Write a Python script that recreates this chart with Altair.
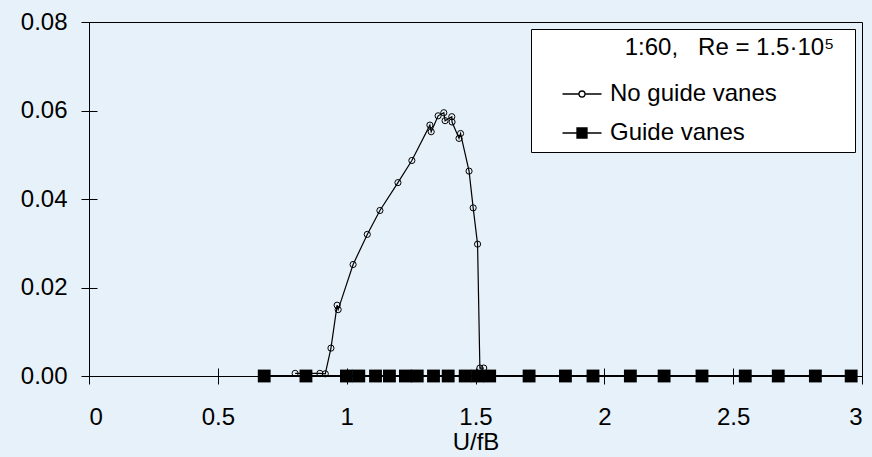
import altair as alt
import pandas as pd

# ---- data ----
no_vanes_x = [0.80, 0.896, 0.917, 0.939, 0.963, 0.967, 1.025, 1.080, 1.129, 1.199,
              1.253, 1.323, 1.328, 1.355, 1.377, 1.382, 1.408, 1.409, 1.436, 1.442,
              1.475, 1.491, 1.508, 1.517, 1.532]
no_vanes_y = [0.0006, 0.0006, 0.0005, 0.0063, 0.0160, 0.0150, 0.0252, 0.0320, 0.0374, 0.0437,
              0.0487, 0.0567, 0.0552, 0.0588, 0.0595, 0.0577, 0.0586, 0.0574, 0.0537, 0.0548,
              0.0463, 0.0380, 0.0298, 0.0018, 0.0018]

vanes_x = [0.680, 0.842, 0.999, 1.047, 1.112, 1.166, 1.228, 1.274, 1.337, 1.394,
           1.460, 1.508, 1.555, 1.708, 1.849, 1.956, 2.101, 2.232, 2.379, 2.547,
           2.675, 2.819, 2.958]
vanes_y = [0.0, 0.0, 0.0, 0.0, 0.0, 0.0, 0.0, 0.0, 0.0, 0.0,
           0.0, 0.0, 0.0, 0.0, 0.0, 0.0, 0.0, 0.0, 0.0, 0.0,
           0.0, 0.0, 0.0]

series_names = ["No guide vanes", "Guide vanes"]
x_ticks = [0, 0.5, 1, 1.5, 2, 2.5, 3]
y_ticks = [0.0, 0.02, 0.04, 0.06, 0.08]
x_title = "U/fB"
legend_title = ("\u200b" + "\u00a0" * 13 + "1:60,\u00a0\u00a0\u00a0Re\u00a0=\u00a01.5\u00b710\u2075"
                + "\u00a0\u00a0\u200b")

# ---- styling ----
BG = "#E7F1F9"
FONT = "Liberation Sans"
FS = 24

df_nv = pd.DataFrame({"x": no_vanes_x, "y": no_vanes_y,
                      "idx": list(range(len(no_vanes_x))), "series": series_names[0]})
df_v = pd.DataFrame({"x": vanes_x, "y": vanes_y,
                     "idx": list(range(len(vanes_x))), "series": series_names[1]})
df_leg = pd.DataFrame({"series": series_names,
                       "x": [no_vanes_x[0], vanes_x[0]],
                       "y": [no_vanes_y[0], vanes_y[0]]})

xscale = alt.Scale(domain=[0, 3], nice=False, zero=False)
yscale = alt.Scale(domain=[0, 0.08], nice=False)

x_axis = alt.Axis(values=x_ticks, format="~g", domain=False, grid=False,
                  offset=-8, tickSize=16, tickColor="black", tickWidth=1,
                  labelFont=FONT, labelFontSize=FS, labelColor="black", labelPadding=21,
                  title=x_title, titleFont=FONT, titleFontSize=24, titleFontWeight="normal",
                  titleColor="black", titlePadding=1)
y_axis = alt.Axis(values=y_ticks, format=".2f", domain=False, grid=False,
                  offset=-8, tickSize=16, tickColor="black", tickWidth=1,
                  labelFont=FONT, labelFontSize=FS, labelColor="black", labelPadding=14,
                  title=None)

X = alt.X("x:Q", scale=xscale, axis=x_axis)
Y = alt.Y("y:Q", scale=yscale, axis=y_axis)

line_v = alt.Chart(df_v).mark_line(color="black", strokeWidth=2).encode(
    x=X, y=Y, order="idx:Q")
line_nv = alt.Chart(df_nv).mark_line(color="black", strokeWidth=1.2).encode(
    x=X, y=Y, order="idx:Q")
squares = alt.Chart(df_v).mark_square(color="black", size=165, opacity=1).encode(x=X, y=Y)
circles = alt.Chart(df_nv).mark_point(shape="circle", filled=False, stroke="black",
                                      strokeWidth=1, size=38, opacity=1).encode(x=X, y=Y)

circ_path = "M-3.9,0H-0.6M0.6,0H3.9M0.6,0A0.6,0.6,0,1,1,-0.6,0A0.6,0.6,0,1,1,0.6,0Z"
sq_path = "M-3.9,0H3.9M-1,-1H1V1H-1Z"

leg = alt.Legend(title=legend_title, orient="top-right", offset=7, padding=7,
                 fillColor="white", strokeColor="black",
                 symbolSize=100, symbolStrokeWidth=1.3,
                 symbolOpacity=1, symbolOffset=32, labelOffset=16,
                 rowPadding=15, titlePadding=22,
                 labelFont=FONT, labelFontSize=FS, labelColor="black", labelLimit=600,
                 titleFont=FONT, titleFontSize=FS, titleFontWeight="normal",
                 titleColor="black", titleLimit=800)

legend_layer = alt.Chart(df_leg).mark_point(opacity=0, filled=False).encode(
    x=X, y=Y,
    shape=alt.Shape("series:N", scale=alt.Scale(domain=series_names,
                                                range=[circ_path, sq_path]), legend=leg),
    fill=alt.Fill("series:N", scale=alt.Scale(domain=series_names,
                                              range=["white", "black"]), legend=leg),
    stroke=alt.Stroke("series:N", scale=alt.Scale(domain=series_names,
                                                  range=["black", "black"]), legend=leg),
)

chart = alt.layer(line_v, line_nv, squares, circles, legend_layer).properties(
    width=773, height=354,
    autosize=alt.AutoSizeParams(type="none"),
    padding={"left": 89, "top": 22, "right": 10, "bottom": 81},
).configure(background=BG).configure_view(stroke="black", strokeWidth=1)

chart.save("out.html", embed_options={"renderer": "svg", "actions": False})
